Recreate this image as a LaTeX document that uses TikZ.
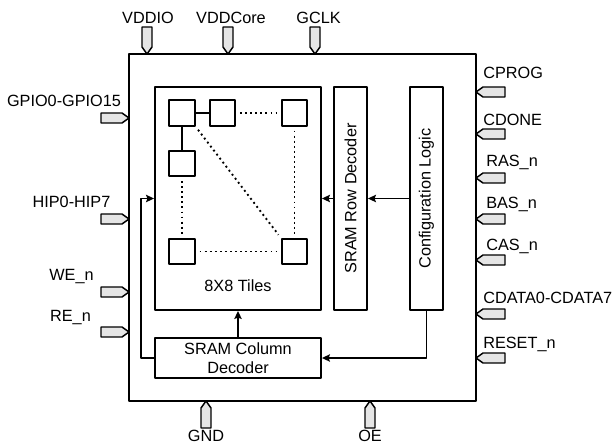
\documentclass[tikz,border=0pt]{standalone}
\usepackage{fontspec}
\setmainfont{Liberation Sans}
\usetikzlibrary{arrows.meta,fit}

\begin{document}
\begin{tikzpicture}[x=0.75pt, y=-0.75pt, >={Stealth[length=6pt, width=5.5pt, inset=1pt]}, line join=round, font=\fontsize{12.2}{14.4}\selectfont,
	box/.style={draw, line width=1.4pt, inner sep=0pt},
	tile/.style={draw, line width=1.4pt, minimum size=19pt, inner sep=0pt},
	link/.style={line width=1.4pt},
	dots/.style={line width=1.4pt, dash pattern=on 1.4pt off 2.4pt, shorten <=3pt, shorten >=3pt},
	wire/.style={->, line width=1.2pt},
	pin/.style={draw, line width=1.1pt, fill=gray!20},
	lbl/.style={inner sep=0pt, anchor=base}]
	\useasboundingbox (0,0) rectangle (615,444);

	% Vỏ chip và các khối
	\node[box, fit={(129,54) (476,401)}] (chip) {};
	\node[box, fit={(155,87) (321,310)}] (tiles) {};
	\node[box, fit={(334,87) (367,310)}] (rowdec) {};
	\node[box, fit={(410,87) (443,310)}] (cfg) {};
	\node[box, fit={(155,338) (321,378)}] (coldec) {};

	% Chữ trong các khối
	\node[rotate=90] (rowtxt) at (rowdec.center) {SRAM Row Decoder};
	\node[rotate=90] (cfgtxt) at (cfg.center) {Configuration Logic};
	\node[align=center] (coltxt) at (coldec.center) {SRAM Column\\Decoder};
	\node (tilestxt) at (238,286) {8X8 Tiles};

	% Các ô tile
	\foreach \n/\x/\y in {1/182/113, 2/222.5/113, 3/294.5/113, 4/182/163.5, 5/182/251.5, 6/294.5/251.5} {
		\node[tile] (t\n) at (\x,\y) {};
	}
	\draw[link] (t1) -- (t2);
	\draw[link] (t1) -- (t4);
	\draw[dots] (t2) -- (t3);
	\draw[dots] (t3) -- (t6);
	\draw[dots] (t4) -- (t5);
	\draw[dots] (t5) -- (t6);
	\draw[dots] (t1.south east) -- (t6.north west);

	% Mũi tên giữa các khối
	\draw[wire] (cfg) -- (rowdec);
	\draw[wire] (rowdec) -- (tiles);
	\draw[wire] (coldec) -- (tiles);
	\draw[wire] (cfg.south) |- (coldec.east);
	\draw[wire] (coldec.west) -- ++(-13,0) |- (tiles.west);

	% Chân phía trên
	\foreach \x/\lx/\t in {147/148/VDDIO, 228/231/VDDCore, 315/318.5/GCLK} {
		\draw[pin] (\x,54) -- ++(-5,-7) -- ++(0,-20) -- ++(10,0) -- ++(0,20) -- cycle;
		\node[lbl] (lbl-\t) at (\lx,23) {\t};
	}

	% Chân phía dưới
	\foreach \x/\t in {206/GND, 370/OE} {
		\draw[pin] (\x,401) -- ++(-5,7) -- ++(0,20) -- ++(10,0) -- ++(0,-20) -- cycle;
		\node[lbl] (lbl-\t) at (\x,441.5) {\t};
	}

	% Chân bên trái
	\foreach \y/\ly/\lx/\t [count=\i] in {118/106/64/GPIO0-GPIO15, 219/207/71.5/HIP0-HIP7, 292/280/71.5/WE\_n, 332/321/70.5/RE\_n} {
		\draw[pin] (129,\y) -- ++(-7,-5) -- ++(-21,0) -- ++(0,10) -- ++(21,0) -- cycle;
		\node[lbl] (left\i) at (\lx,\ly) {\t};
	}

	% Chân bên phải
	\foreach \y/\ly/\lx/\t [count=\i] in {92/78/483/CPROG, 134/125/483/CDONE, 178/166/486/RAS\_n, 219/208/486/BAS\_n, 260/250/486/CAS\_n, 314/303/483/CDATA0-CDATA7, 358/348/483/RESET\_n} {
		\draw[pin] (476,\y) -- ++(7,-5) -- ++(22,0) -- ++(0,10) -- ++(-22,0) -- cycle;
		\node[lbl, anchor=base west] (right\i) at (\lx,\ly) {\t};
	}
\end{tikzpicture}
\end{document}
